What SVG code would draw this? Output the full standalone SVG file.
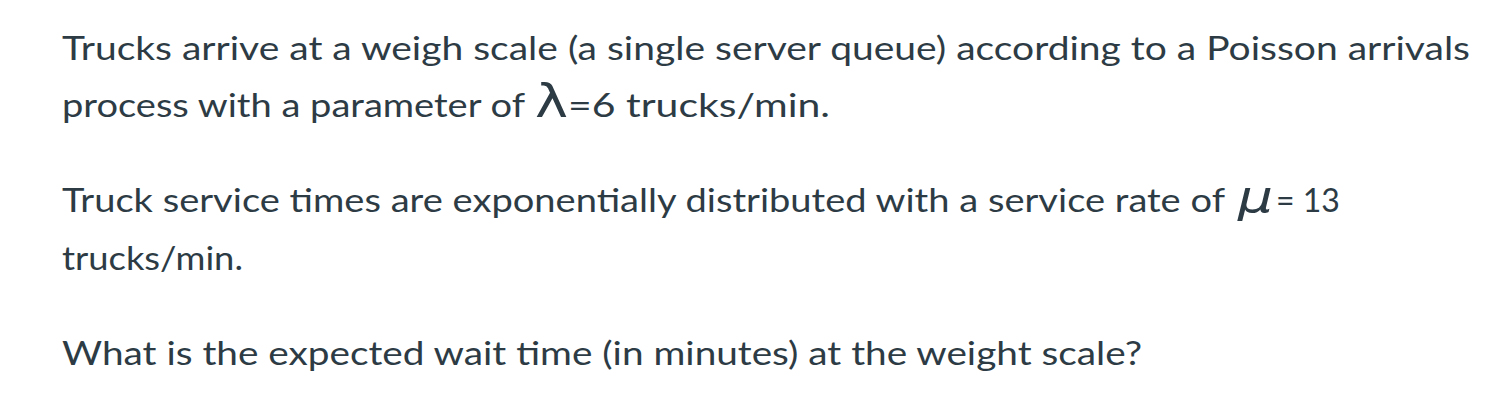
<svg xmlns="http://www.w3.org/2000/svg" width="1506" height="412" viewBox="0 0 1506 412">
<style>
text{font-family:Lato,"Open Sans",sans-serif;font-size:32px;fill:#2d3b45}
.g{font-family:"DejaVu Sans",sans-serif;font-size:46px}
.m{font-family:"DejaVu Sans",sans-serif;font-size:44px;font-style:italic}
</style>
<rect width="1506" height="412" fill="#fff"/>
<text x="62" y="60" textLength="1408" lengthAdjust="spacingAndGlyphs">Trucks arrive at a weigh scale (a single server queue) according to a Poisson arrivals</text>
<text x="62" y="117" textLength="463" lengthAdjust="spacingAndGlyphs">process with a parameter of</text>
<text class="g" x="535" y="117" textLength="33" lengthAdjust="spacingAndGlyphs">λ</text>
<text x="568" y="117" textLength="262" lengthAdjust="spacingAndGlyphs">=6 trucks/min.</text>
<text x="62" y="212" textLength="1163" lengthAdjust="spacingAndGlyphs">Truck service times are exponentially distributed with a service rate of</text>
<text class="m" x="1238" y="212" textLength="35" lengthAdjust="spacingAndGlyphs">μ</text>
<text x="1276" y="212">= 13</text>
<text x="62" y="270" textLength="181" lengthAdjust="spacingAndGlyphs">trucks/min.</text>
<text x="62" y="365" textLength="1080" lengthAdjust="spacingAndGlyphs">What is the expected wait time (in minutes) at the weight scale?</text>
</svg>
